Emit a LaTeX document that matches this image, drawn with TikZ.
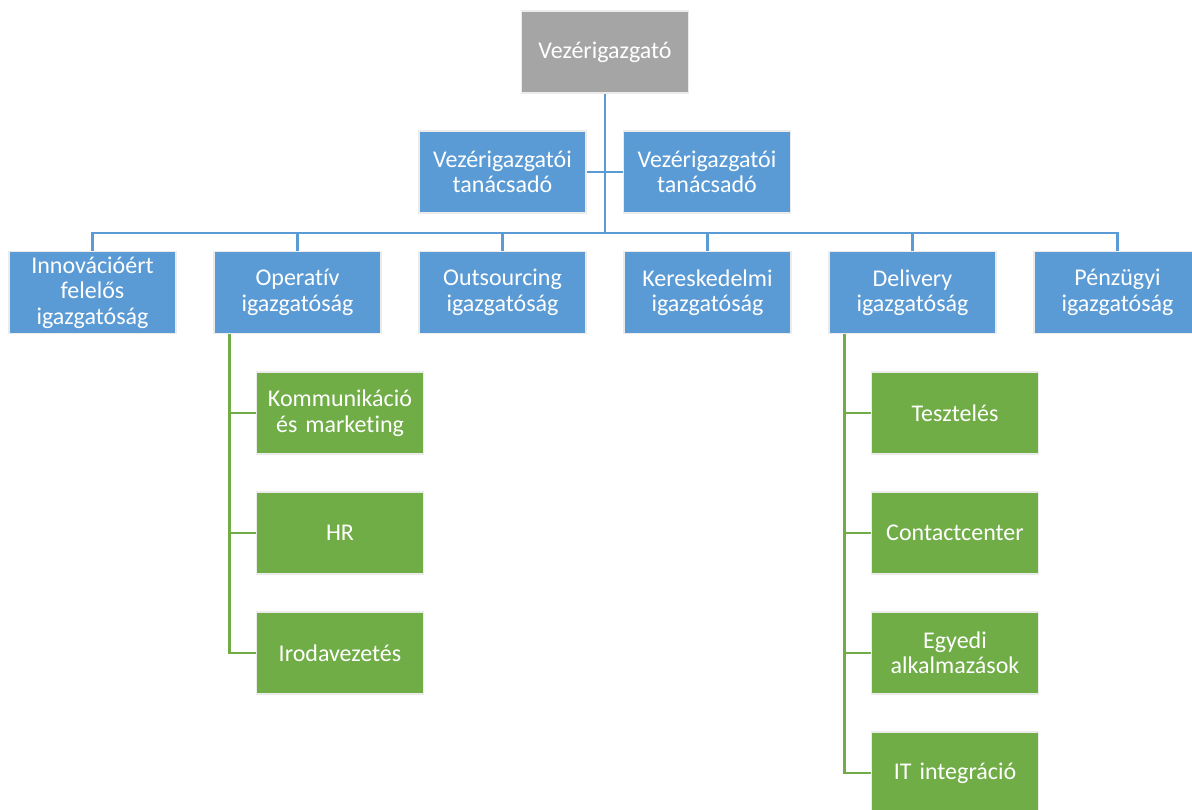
\documentclass[tikz,border=0pt]{standalone}
\usepackage{fontspec}
\setmainfont{Carlito}[Ligatures=NoCommon]
\begin{document}
\begin{tikzpicture}[x=1pt,y=-1pt,
  orgbox/.style={rectangle, minimum width=167pt, minimum height=82pt,
    text width=162pt, align=center, inner sep=0pt, text=white,
    draw=black!8, line width=1.2pt,
    font=\fontsize{24pt}{25.5pt}\selectfont},
  topbox/.style={orgbox, fill=headgray},
  bluebox/.style={orgbox, fill=unitblue},
  greenbox/.style={orgbox, fill=subgreen},
  blueline/.style={draw=unitblue, line width=2.8pt},
  greenline/.style={draw=subgreen, line width=2.8pt}]
\definecolor{headgray}{HTML}{A5A5A5}
\definecolor{unitblue}{HTML}{5B9BD5}
\definecolor{subgreen}{HTML}{70AD47}
\useasboundingbox (0,0) rectangle (1192,810);

% chief executive and advisors
\node[topbox]  (ceo)  at (605,52)   {Vezérigazgató};
\node[bluebox] (adv1) at (502.5,172) {Vezérigazgatói\\tanácsadó};
\node[bluebox] (adv2) at (707,172)   {Vezérigazgatói\\tanácsadó};

% directorates
\node[bluebox] (d1) at (92.5,292.5)  {Innovációért\\felelős\\igazgatóság};
\node[bluebox] (d2) at (297.5,292.5) {Operatív\\igazgatóság};
\node[bluebox] (d3) at (502.5,292.5) {Outsourcing\\igazgatóság};
\node[bluebox] (d4) at (707.5,292.5) {Kereskedelmi\\igazgatóság};
\node[bluebox] (d5) at (912.5,292.5) {Delivery\\igazgatóság};
\node[bluebox] (d6) at (1117.5,292.5) {Pénzügyi\\igazgatóság};

% departments under Operatív
\node[greenbox] (o1) at (340,413) {Kommunikáció\\és marketing};
\node[greenbox] (o2) at (340,533) {HR};
\node[greenbox] (o3) at (340,653) {Irodavezetés};

% departments under Delivery
\node[greenbox] (e1) at (955,413) {Tesztelés};
\node[greenbox] (e2) at (955,533) {Contactcenter};
\node[greenbox] (e3) at (955,653) {Egyedi\\alkalmazások};
\node[greenbox] (e4) at (955,773) {IT integráció};

% blue connectors
\coordinate (bus) at (605,233);
\draw[blueline] (ceo.south) -- (ceo.south |- bus);
\draw[blueline] (adv1.east) -- (adv2.west);
\draw[blueline] (d1.north) |- (bus) -| (d6.north);
\foreach \n in {d2,d3,d4,d5}
  \draw[blueline] (\n.north) -- (\n.north |- bus);

% green connectors
\coordinate (ospine) at ([xshift=16pt]d2.south west);
\coordinate (espine) at ([xshift=16pt]d5.south west);
\draw[greenline] (ospine) |- (o3.west);
\foreach \n in {o1,o2}
  \draw[greenline] (\n.west) -- (\n.west -| ospine);
\draw[greenline] (espine) |- (e4.west);
\foreach \n in {e1,e2,e3}
  \draw[greenline] (\n.west) -- (\n.west -| espine);
\end{tikzpicture}
\end{document}
